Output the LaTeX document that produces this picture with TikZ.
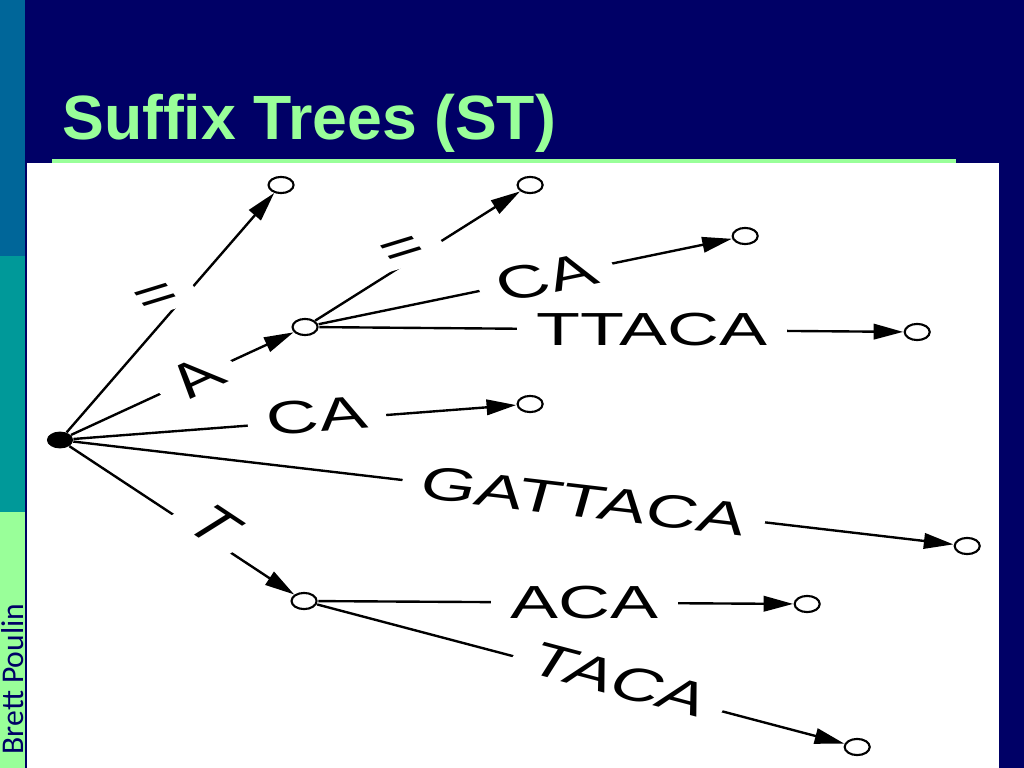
\documentclass[tikz,border=0pt]{standalone}
\usepackage{fontspec}
\setmainfont{Liberation Sans}
\newfontfamily\sidefont{Carlito}
\usetikzlibrary{arrows.meta}
\definecolor{navy}{RGB}{0,0,102}
\definecolor{mint}{RGB}{153,255,153}
\definecolor{steel}{RGB}{0,102,153}
\definecolor{sea}{RGB}{0,153,153}

\begin{document}
\begin{tikzpicture}[x=0.025cm, y=-0.025cm,
  leaf/.style = {draw, circle, line width=1.5pt, fill=white, minimum size=11.5pt, inner sep=0pt},
  root/.style = {circle, fill=black, minimum size=12pt, inner sep=0pt},
  arc/.style = {line width=1.7pt, -{Triangle[length=21pt, width=11pt]}},
  lab/.style = {fill=white, font=\fontsize{33}{33}\selectfont, inner xsep=9pt, inner ysep=1pt},
  eq/.style = {lab, rotate=25.4, minimum height=20pt}]
\fill[navy] (0,0) rectangle (1024,768);
\fill[steel] (0,0) rectangle (25,256);
\fill[sea] (0,256) rectangle (25,512);
\fill[mint] (0,512) rectangle (25,768);
\fill[white] (27,163) rectangle (999,768);
\fill[mint] (52,159) rectangle (956,163);
\node[anchor=base west, text=mint, font=\bfseries\fontsize{44.5}{44.5}\selectfont, inner sep=0pt] (title) at (62,140) {Suffix Trees (ST)};
\node[rotate=90, text=navy, font=\sidefont\fontsize{22.5}{22.5}\selectfont, inner sep=0pt] (name) at (13,679) {Brett Poulin};

\begin{scope}[x=0.016129cm, xscale=1.55, transform shape]
\node[root] (r) at (60,440) {};
\node[leaf] (l1) at (281,185) {};
\node[leaf] (a) at (305,327) {};
\node[leaf] (l2) at (530,185) {};
\node[leaf] (l3) at (745,236) {};
\node[leaf] (l4) at (917,332) {};
\node[leaf] (l5) at (530,404) {};
\node[leaf] (l6) at (967,546) {};
\node[leaf] (t) at (304,601) {};
\node[leaf] (l7) at (807,604) {};
\node[leaf] (l8) at (857,747) {};

\draw[arc] (r) -- node[eq, pos=.55, xshift=-9pt, yshift=6pt] {=} (l1);
\draw[arc] (r) -- node[lab, rotate=35.6, pos=.56] {A} (a);
\draw[arc] (r) -- node[lab, rotate=6.8, pos=.55, yshift=3pt] {CA} (l5);
\draw[arc] (r) -- node[lab, rotate=-10.3, pos=.58] {GATTACA} (l6);
\draw[arc] (r) -- node[lab, rotate=-45.8, pos=.59, yshift=8pt] {T} (t);
\draw[arc] (a) -- node[eq, pos=.53, xshift=-8pt, yshift=4pt] {=} (l2);
\draw[arc] (a) -- node[lab, rotate=17.8, pos=.55] {CA} (l3);
\draw[arc] (a) -- node[lab, pos=.57] {TTACA} (l4);
\draw[arc] (t) -- node[lab, pos=.56] {ACA} (l7);
\draw[arc] (t) -- node[lab, rotate=-22.2, pos=.57, yshift=3pt] {TACA} (l8);
\end{scope}
\end{tikzpicture}
\end{document}
